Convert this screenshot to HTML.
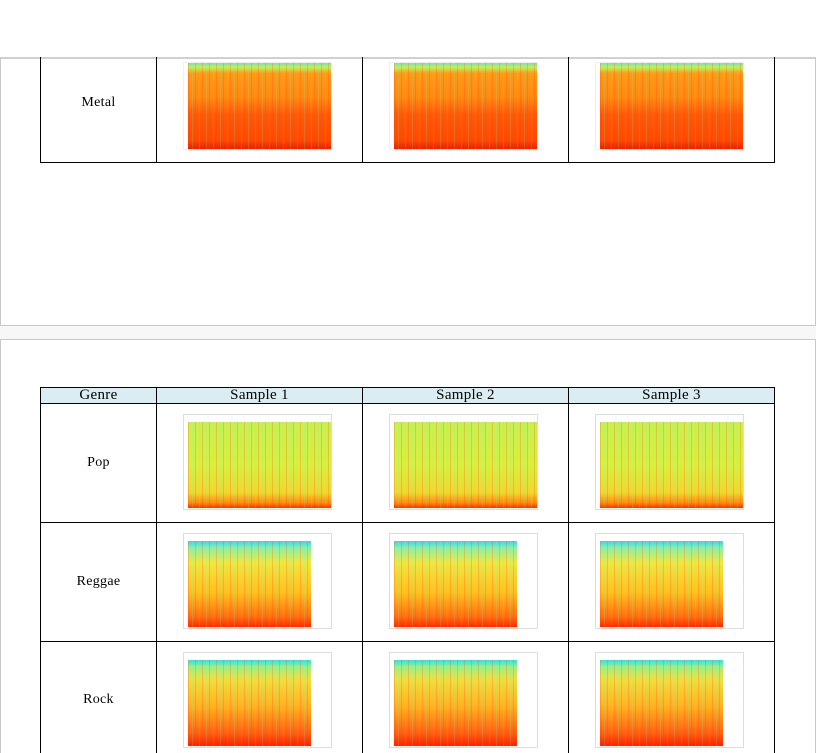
<!DOCTYPE html>
<html><head><meta charset="utf-8">
<style>
html,body{margin:0;width:816px;height:753px;overflow:hidden;}
body{background:#f7f7f7;position:relative;font-family:"Liberation Serif",serif;}
.page{position:absolute;background:#fff;border:1px solid #c8c8c8;}
.cell{position:absolute;border:1px solid #000;box-sizing:border-box;font-size:14px;letter-spacing:0.3px;color:#000;display:flex;align-items:center;justify-content:center;}
.hdr{background:#daedf3;font-size:15px;}
.frame{position:absolute;border:1px solid #ddd;box-sizing:border-box;background:#fff;}
.plot{position:absolute;}
</style></head>
<body>
<div style="position:absolute;left:0;top:0;width:816px;height:58px;background:#fff"></div>
<div class="page" style="left:0;top:57px;width:814px;height:266px;border-top:2px solid #d0d0d0"></div>
<div class="page" style="left:0;top:339px;width:814px;height:420px;"></div>

<div class="cell" style="left:40px;top:57px;width:117px;height:106px;border-top:none;padding-bottom:14px">Metal</div>
<div class="cell" style="left:156px;top:57px;width:207px;height:106px;border-top:none"></div>
<div class="cell" style="left:362px;top:57px;width:207px;height:106px;border-top:none"></div>
<div class="cell" style="left:568px;top:57px;width:207px;height:106px;border-top:none"></div>

<div class="cell hdr" style="left:40px;top:387px;width:117px;height:17px">Genre</div>
<div class="cell hdr" style="left:156px;top:387px;width:207px;height:17px">Sample 1</div>
<div class="cell hdr" style="left:362px;top:387px;width:207px;height:17px">Sample 2</div>
<div class="cell hdr" style="left:568px;top:387px;width:207px;height:17px">Sample 3</div>

<div class="cell" style="left:40px;top:403px;width:117px;height:120px">Pop</div>
<div class="cell" style="left:156px;top:403px;width:207px;height:120px"></div>
<div class="cell" style="left:362px;top:403px;width:207px;height:120px"></div>
<div class="cell" style="left:568px;top:403px;width:207px;height:120px"></div>

<div class="cell" style="left:40px;top:522px;width:117px;height:120px">Reggae</div>
<div class="cell" style="left:156px;top:522px;width:207px;height:120px"></div>
<div class="cell" style="left:362px;top:522px;width:207px;height:120px"></div>
<div class="cell" style="left:568px;top:522px;width:207px;height:120px"></div>

<div class="cell" style="left:40px;top:641px;width:117px;height:130px;padding-bottom:12px">Rock</div>
<div class="cell" style="left:156px;top:641px;width:207px;height:130px"></div>
<div class="cell" style="left:362px;top:641px;width:207px;height:130px"></div>
<div class="cell" style="left:568px;top:641px;width:207px;height:130px"></div>

<script>
const genres = ['metal','pop','reggae','rock'];
const rowTops = [57, 403, 522, 641];
const colLefts = [188, 394, 600];
const grads = {
  metal:'linear-gradient(#70eaa0 0%,#c8f050 5%,#ff9a18 12%,#ff8a10 40%,#ff5a08 60%,#ff4a00 90%,#e82000 100%)',
  pop:'linear-gradient(#c8f050 0%,#d8f040 50%,#f0d830 82%,#ff8a10 94%,#ff3000 100%)',
  reggae:'linear-gradient(#30d8f0 0%,#90f0a0 8%,#f0e840 25%,#ffc020 60%,#ff7010 88%,#ff2a00 100%)',
  rock:'linear-gradient(#30e0e0 0%,#a0f080 8%,#f0e040 22%,#ffb020 55%,#ff6010 85%,#ff2000 100%)'
};
const stripes = 'repeating-linear-gradient(90deg,rgba(255,60,0,0.22) 0 1px,rgba(0,0,0,0) 1px 4px,rgba(120,240,200,0.18) 4px 5px,rgba(0,0,0,0) 5px 7px)';
genres.forEach((g,gi)=>{
  colLefts.forEach((x,ci)=>{
    const narrow = (g==='reggae'||g==='rock');
    const top = rowTops[gi];
    const f=document.createElement('div');
    f.className='frame';
    
    
    const fy = g==='metal'?62:top+11, fh = g==='metal'?88:96;
    f.style.cssText=`left:${x-5}px;top:${fy}px;width:149px;height:${fh}px;`+(g==='metal'?'border-color:#eee':'');
    document.body.appendChild(f);
    const p=document.createElement('div');
    p.className='plot';
    
    
    const py = g==='metal'?63:top+19;
    p.style.cssText=`left:${x}px;top:${py}px;width:${narrow?123:143}px;height:86px;background:${stripes},${grads[g]};`;
    document.body.appendChild(p);
  });
});
</script>
</body></html>
